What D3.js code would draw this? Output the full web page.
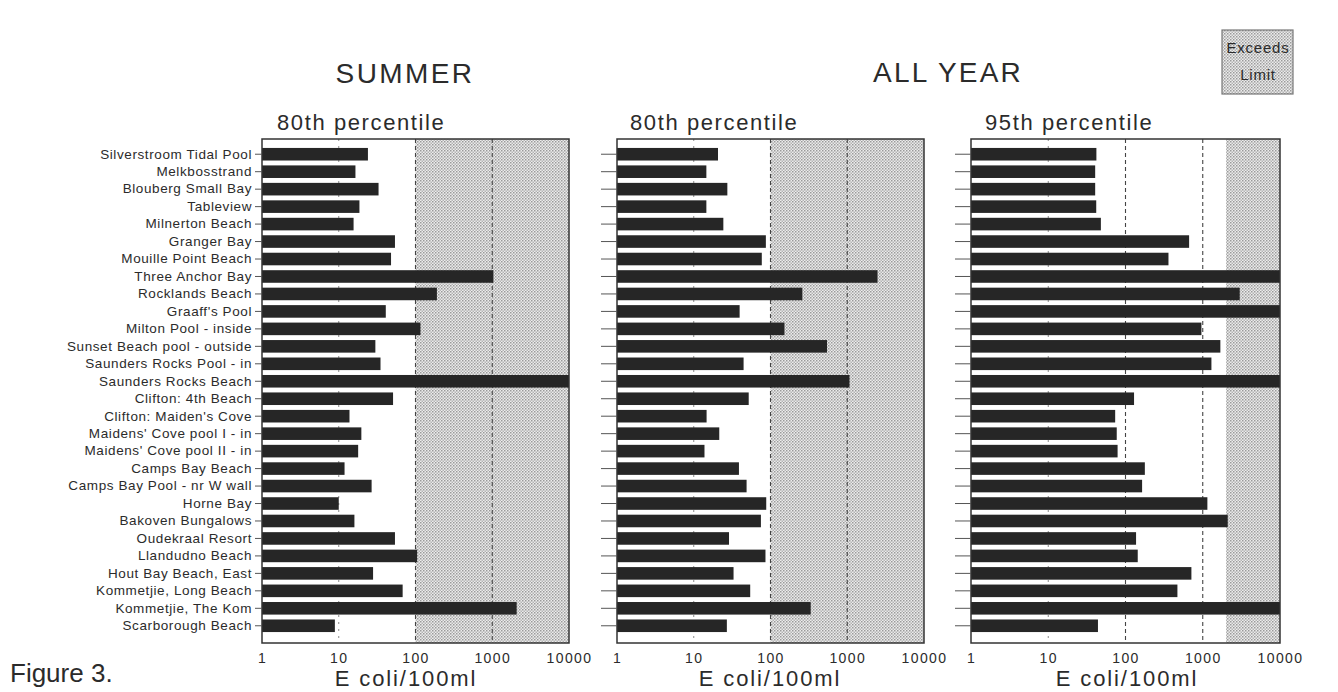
<!DOCTYPE html>
<html><head><meta charset="utf-8">
<script src="https://cdn.jsdelivr.net/npm/d3@7"></script>
<style>
html,body{margin:0;padding:0;background:#fff;}
svg{display:block;}
text{font-family:"Liberation Sans",Arial,Helvetica,sans-serif;fill:#2b2b2b;}
</style></head>
<body>
<svg id="chart" width="1338" height="692"></svg>
<script>
const sites = ["Silverstroom Tidal Pool","Melkbosstrand","Blouberg Small Bay","Tableview","Milnerton Beach","Granger Bay","Mouille Point Beach","Three Anchor Bay","Rocklands Beach","Graaff's Pool","Milton Pool - inside","Sunset Beach pool - outside","Saunders Rocks Pool - in","Saunders Rocks Beach","Clifton: 4th Beach","Clifton: Maiden's Cove","Maidens' Cove pool I - in","Maidens' Cove pool II - in","Camps Bay Beach","Camps Bay Pool - nr W wall","Horne Bay","Bakoven Bungalows","Oudekraal Resort","Llandudno Beach","Hout Bay Beach, East","Kommetjie, Long Beach","Kommetjie, The Kom","Scarborough Beach"];
const summer80 = [24,16.5,33,18.6,15.6,54,48,1035,190,41,116,30,35,10000,51,13.8,19.7,17.9,11.9,26.8,10,16,54,105,28,68,2080,8.9];
const allYear80 = [20.7,14.6,27.4,14.6,24.3,87,77,2480,260,39.6,152,545,44.6,1070,52,14.7,21.5,13.8,38.8,48.8,88,75,28.8,86,33,54.4,334,27];
const allYear95 = [42,40.5,40.5,41.8,48,666,360,10000,3010,10000,961,1690,1295,10000,129,73.5,77,79,178,164,1148,2105,137,144,713,470,10000,44];
const panelTitles = ["80th percentile","80th percentile","95th percentile"];
const limits = [100,100,2000];
const tickValues = [1,10,100,1000,10000];
const groupTitles = ["SUMMER","ALL YEAR"];
const xLabel = "E coli/100ml";
const legendLines = ["Exceeds","Limit"];

const svg = d3.select("#chart");
const defs = svg.append("defs");
const pat = defs.append("pattern").attr("id","stip").attr("patternUnits","userSpaceOnUse")
  .attr("width",3).attr("height",3);
pat.append("rect").attr("width",3).attr("height",3).attr("fill","#ececec");
pat.append("rect").attr("x",0).attr("y",0).attr("width",1.5).attr("height",1.5).attr("fill","#9a9a9a");
pat.append("rect").attr("x",1.5).attr("y",1.5).attr("width",1.5).attr("height",1.5).attr("fill","#b4b4b4");

const plotTop = 139, plotBottom = 643;
const y = d3.scaleBand().domain(sites).range([145.5, 634.5]).paddingInner(0.28).paddingOuter(0.14);

const panels = [
  {x0:262, x1:569, data:summer80, title:panelTitles[0], limit:limits[0], labels:true, tickLen:7, titleX:277, labelX:406},
  {x0:617, x1:924, data:allYear80, title:panelTitles[1], limit:limits[1], labels:false, tickLen:16, titleX:630, labelX:770},
  {x0:971, x1:1280, data:allYear95, title:panelTitles[2], limit:limits[2], labels:false, tickLen:16, titleX:985, labelX:1127}
];

panels.forEach((p,pi)=>{
  const x = d3.scaleLog().domain([1,10000]).range([p.x0,p.x1]);
  const g = svg.append("g");
  g.append("rect").attr("x",x(p.limit)).attr("y",plotTop).attr("width",x(10000)-x(p.limit)).attr("height",plotBottom-plotTop)
    .attr("fill","url(#stip)");
  [10,100,1000].forEach(v=>{
    g.append("line").attr("x1",x(v)).attr("x2",x(v)).attr("y1",plotTop).attr("y2",plotBottom)
      .attr("stroke", v===10 ? "#8a8a8a" : "#444").attr("stroke-width", v===10?1:1.1)
      .attr("stroke-dasharray", v===10 ? "2,5" : "4,3");
  });
  g.selectAll("rect.bar").data(p.data).join("rect").attr("class","bar")
    .attr("x",x(1)).attr("y",(d,i)=>y(sites[i]))
    .attr("width",d=>x(d)-x(1)).attr("height",y.bandwidth())
    .attr("fill","#262626");
  g.append("rect").attr("x",p.x0).attr("y",plotTop).attr("width",p.x1-p.x0).attr("height",plotBottom-plotTop)
    .attr("fill","none").attr("stroke","#333").attr("stroke-width",1.5);
  const yAxis = d3.axisLeft(y).tickSize(p.tickLen).tickPadding(3);
  if(!p.labels) yAxis.tickFormat("");
  const ya = svg.append("g").attr("transform",`translate(${p.x0},0)`).call(yAxis);
  ya.select(".domain").remove();
  ya.selectAll("line").attr("stroke","#555").attr("stroke-width",1);
  ya.selectAll("text").attr("font-size",13.5).attr("letter-spacing","0.6px").attr("fill","#2b2b2b")
    .style("font-family","'Liberation Sans',Arial,sans-serif");
  const xAxis = d3.axisBottom(x).tickValues(tickValues).tickSize(0).tickPadding(10).tickFormat(d3.format("d"));
  const xa = svg.append("g").attr("transform",`translate(0,${plotBottom})`).call(xAxis);
  xa.select(".domain").remove();
  xa.selectAll("text").attr("font-size",14).attr("letter-spacing","1.4px").attr("fill","#333")
    .style("font-family","'Liberation Sans',Arial,sans-serif");
  svg.append("text").attr("x",p.titleX).attr("y",130).attr("font-size",22).attr("letter-spacing","1.6px")
    .text(p.title);
  svg.append("text").attr("x",p.labelX).attr("y",686).attr("text-anchor","middle")
    .attr("font-size",22).attr("letter-spacing","1.9px").text(xLabel);
});

svg.append("text").attr("x",405).attr("y",83).attr("text-anchor","middle").attr("font-size",28)
  .attr("letter-spacing","2.4px").text(groupTitles[0]);
svg.append("text").attr("x",948).attr("y",82).attr("text-anchor","middle").attr("font-size",28)
  .attr("letter-spacing","2.2px").text(groupTitles[1]);

const lg = svg.append("g");
lg.append("rect").attr("x",1222).attr("y",30).attr("width",71).attr("height",64)
  .attr("fill","url(#stip)").attr("stroke","#777").attr("stroke-width",1.2);
legendLines.forEach((t,i)=>{
  lg.append("text").attr("x",1258).attr("y",53+i*27).attr("text-anchor","middle").attr("font-size",15)
    .attr("letter-spacing","0.8px").attr("fill","#444").text(t);
});

svg.append("text").attr("x",10).attr("y",682).attr("font-size",26).attr("fill","#111").text("Figure 3.");
</script>
</body></html>
